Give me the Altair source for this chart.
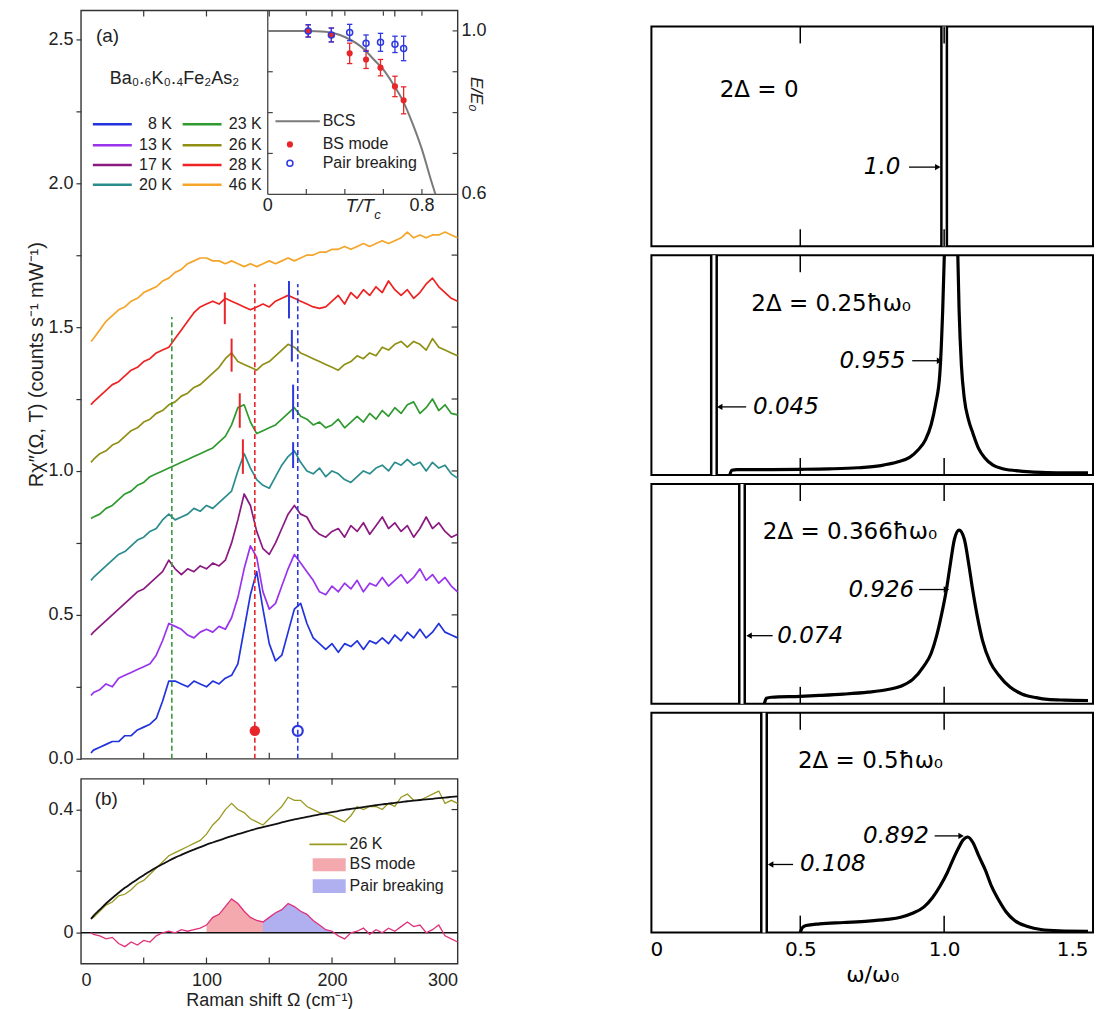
import altair as alt
import pandas as pd

FL = "Liberation Sans"
FR = "DejaVu Sans"
INK = "#222222"

# ---------------- panel (a): Raman spectra ----------------
shift = [8, 10, 15, 20, 25, 30, 35, 40, 45, 50, 55, 60, 65, 70, 75, 80, 85, 90, 95, 100,
         105, 110, 115, 120, 125, 130, 135, 140, 145, 150, 155, 160, 165, 170, 175, 180, 185, 190, 195, 200,
         205, 210, 215, 220, 225, 230, 235, 240, 245, 250, 255, 260, 265, 270, 275, 280, 285, 290, 295, 300]
temps = ["8 K", "13 K", "17 K", "20 K", "23 K", "26 K", "28 K", "46 K"]
temp_colors = ["#2233dd", "#9933ee", "#8b1a80", "#2a8c8c", "#2f9a2f", "#8f8f14", "#ee2222", "#f4a52a"]

s8 = [0.02, 0.03, 0.04, 0.05, 0.06, 0.06, 0.08, 0.08, 0.10, 0.11, 0.12, 0.14, 0.20, 0.27, 0.27, 0.26, 0.25, 0.27, 0.26, 0.25,
      0.27, 0.26, 0.28, 0.29, 0.33, 0.45, 0.57, 0.65, 0.52, 0.40, 0.34, 0.36, 0.44, 0.52, 0.54, 0.47, 0.42, 0.40, 0.38, 0.40,
      0.37, 0.40, 0.39, 0.41, 0.38, 0.41, 0.40, 0.42, 0.40, 0.43, 0.41, 0.44, 0.42, 0.45, 0.42, 0.44, 0.47, 0.44, 0.43, 0.42]
s13 = [0.22, 0.23, 0.24, 0.26, 0.25, 0.28, 0.29, 0.30, 0.31, 0.32, 0.33, 0.36, 0.41, 0.47, 0.46, 0.45, 0.43, 0.42, 0.44, 0.45,
       0.44, 0.46, 0.45, 0.49, 0.56, 0.66, 0.74, 0.70, 0.58, 0.52, 0.54, 0.60, 0.66, 0.71, 0.68, 0.65, 0.62, 0.58, 0.57, 0.60,
       0.58, 0.61, 0.59, 0.62, 0.58, 0.61, 0.60, 0.63, 0.60, 0.62, 0.64, 0.61, 0.63, 0.66, 0.62, 0.64, 0.61, 0.63, 0.60, 0.58]
s17 = [0.43, 0.44, 0.46, 0.48, 0.50, 0.52, 0.54, 0.56, 0.58, 0.59, 0.61, 0.63, 0.65, 0.69, 0.66, 0.64, 0.66, 0.65, 0.67, 0.66,
       0.68, 0.67, 0.69, 0.75, 0.83, 0.92, 0.88, 0.79, 0.73, 0.71, 0.75, 0.80, 0.85, 0.88, 0.85, 0.84, 0.80, 0.78, 0.77, 0.79,
       0.80, 0.77, 0.81, 0.79, 0.82, 0.78, 0.81, 0.84, 0.80, 0.82, 0.79, 0.81, 0.77, 0.80, 0.84, 0.80, 0.82, 0.79, 0.77, 0.78]
s20 = [0.62, 0.63, 0.65, 0.67, 0.69, 0.71, 0.72, 0.74, 0.76, 0.77, 0.79, 0.80, 0.83, 0.85, 0.83, 0.84, 0.85, 0.87, 0.86, 0.88,
       0.87, 0.89, 0.91, 0.93, 1.00, 1.06, 1.01, 0.97, 0.95, 0.94, 0.98, 1.02, 1.05, 1.07, 1.03, 1.00, 0.99, 1.01, 0.98, 1.00,
       0.99, 0.97, 0.96, 0.98, 1.00, 0.99, 1.01, 1.02, 1.00, 1.03, 1.02, 1.04, 1.02, 1.03, 1.00, 1.03, 1.01, 1.02, 0.99, 0.975]
s23 = [0.835, 0.84, 0.85, 0.87, 0.88, 0.90, 0.92, 0.93, 0.95, 0.96, 0.98, 0.99, 1.00, 1.01, 1.02, 1.03, 1.04, 1.05, 1.06, 1.07,
       1.08, 1.10, 1.12, 1.16, 1.22, 1.23, 1.17, 1.13, 1.14, 1.15, 1.16, 1.18, 1.20, 1.22, 1.19, 1.18, 1.16, 1.17, 1.15, 1.16,
       1.18, 1.15, 1.17, 1.19, 1.17, 1.20, 1.18, 1.21, 1.19, 1.22, 1.20, 1.23, 1.24, 1.20, 1.22, 1.25, 1.21, 1.23, 1.20, 1.195]
s26 = [1.03, 1.04, 1.06, 1.07, 1.09, 1.10, 1.12, 1.14, 1.15, 1.17, 1.18, 1.20, 1.21, 1.23, 1.24, 1.26, 1.27, 1.29, 1.30, 1.32,
       1.34, 1.36, 1.39, 1.41, 1.38, 1.37, 1.36, 1.35, 1.37, 1.38, 1.40, 1.42, 1.44, 1.43, 1.41, 1.40, 1.39, 1.38, 1.37, 1.36,
       1.35, 1.37, 1.38, 1.40, 1.39, 1.41, 1.40, 1.43, 1.42, 1.44, 1.45, 1.43, 1.45, 1.44, 1.42, 1.46, 1.43, 1.42, 1.41, 1.40]
s28 = [1.23, 1.24, 1.26, 1.28, 1.30, 1.31, 1.33, 1.35, 1.36, 1.38, 1.39, 1.41, 1.42, 1.43, 1.46, 1.49, 1.52, 1.55, 1.57, 1.58,
       1.59, 1.58, 1.60, 1.59, 1.58, 1.57, 1.56, 1.57, 1.58, 1.57, 1.59, 1.60, 1.61, 1.60, 1.59, 1.58, 1.57, 1.565, 1.57, 1.59,
       1.61, 1.58, 1.62, 1.60, 1.63, 1.61, 1.64, 1.62, 1.66, 1.63, 1.61, 1.63, 1.60, 1.62, 1.65, 1.67, 1.64, 1.62, 1.60, 1.59]
s46 = [1.45, 1.46, 1.49, 1.52, 1.54, 1.56, 1.57, 1.59, 1.60, 1.62, 1.63, 1.64, 1.66, 1.67, 1.69, 1.70, 1.72, 1.73, 1.74, 1.74,
       1.73, 1.73, 1.72, 1.73, 1.72, 1.71, 1.72, 1.71, 1.72, 1.73, 1.72, 1.73, 1.74, 1.73, 1.74, 1.75, 1.75, 1.76, 1.76, 1.77,
       1.77, 1.78, 1.77, 1.78, 1.79, 1.78, 1.79, 1.80, 1.79, 1.80, 1.81, 1.83, 1.81, 1.82, 1.81, 1.82, 1.82, 1.83, 1.82, 1.81]
spectra = [s8, s13, s17, s20, s23, s26, s28, s46]

guide_x = [72.4, 138.5, 172.7]
guide_top = [1.535, 1.65, 1.65]
guide_colors = ["#3a9a3a", "#e8262a", "#2d38e0"]

mode_x = [114.6, 165.7, 120.0, 168.0, 126.5, 169.0, 129.0, 169.0]
mode_lo = [1.51, 1.53, 1.345, 1.38, 1.15, 1.18, 0.99, 1.01]
mode_hi = [1.62, 1.66, 1.46, 1.49, 1.27, 1.30, 1.11, 1.10]
mode_colors = ["#e8262a", "#2d38e0"] * 4

bs_dot_x, pb_dot_x, dot_y = 138.5, 172.7, 0.097

# ---------------- panel (b) ----------------
b26 = [0.045, 0.05, 0.07, 0.09, 0.10, 0.12, 0.125, 0.14, 0.16, 0.17, 0.19, 0.21, 0.23, 0.25, 0.26, 0.27, 0.28, 0.29, 0.30, 0.32,
       0.35, 0.37, 0.40, 0.42, 0.40, 0.39, 0.37, 0.36, 0.35, 0.37, 0.39, 0.41, 0.44, 0.43, 0.43, 0.41, 0.40, 0.39, 0.385, 0.38,
       0.37, 0.36, 0.38, 0.41, 0.40, 0.41, 0.41, 0.40, 0.42, 0.41, 0.44, 0.45, 0.43, 0.43, 0.44, 0.45, 0.46, 0.42, 0.43, 0.42]
bfit = [0.045, 0.055, 0.075, 0.095, 0.113, 0.13, 0.146, 0.16, 0.174, 0.187, 0.2, 0.212, 0.223, 0.234, 0.244, 0.253, 0.262, 0.27, 0.278, 0.286,
        0.293, 0.3, 0.307, 0.314, 0.32, 0.326, 0.332, 0.338, 0.343, 0.348, 0.353, 0.358, 0.363, 0.368, 0.372, 0.376, 0.38, 0.384, 0.388, 0.392,
        0.395, 0.399, 0.402, 0.405, 0.408, 0.411, 0.414, 0.417, 0.419, 0.422, 0.424, 0.427, 0.429, 0.431, 0.433, 0.435, 0.437, 0.439, 0.441, 0.443]
bdiff = [0.0, -0.005, -0.01, -0.02, -0.015, -0.035, -0.045, -0.03, -0.04, -0.025, -0.03, -0.01, 0.0, 0.005, 0.0, 0.01, 0.005, 0.01, 0.015, 0.025,
         0.05, 0.06, 0.085, 0.11, 0.095, 0.07, 0.05, 0.04, 0.035, 0.05, 0.065, 0.075, 0.095, 0.085, 0.07, 0.06, 0.04, 0.025, 0.01, 0.005,
         -0.01, -0.02, 0.0, 0.005, 0.015, -0.005, 0.01, 0.0, 0.015, 0.005, 0.02, 0.035, 0.02, 0.025, 0.0, 0.01, 0.025, -0.01, -0.02, -0.03]
bs_range = (100, 145)
pb_range = (145, 200)

# ---------------- inset ----------------
bcs_t = [0.0, 0.1, 0.2, 0.3, 0.4, 0.5, 0.55, 0.6, 0.65, 0.7, 0.75, 0.8, 0.85, 0.87]
bcs_e = [1.0, 1.0, 1.0, 0.998, 0.985, 0.955, 0.93, 0.905, 0.87, 0.83, 0.775, 0.71, 0.63, 0.6]
pt_t = [0.21, 0.33, 0.425, 0.51, 0.585, 0.66, 0.705]
bs_e = [1.0, 0.99, 0.945, 0.93, 0.91, 0.864, 0.83]
bs_err = [0.015, 0.017, 0.025, 0.022, 0.02, 0.025, 0.033]
pb_e = [1.0, 0.99, 0.996, 0.97, 0.972, 0.967, 0.957]
pb_err = [0.015, 0.017, 0.02, 0.02, 0.022, 0.02, 0.03]

# ---------------- right column ----------------
p2_x = [0.255, 0.262, 0.28, 0.40, 0.50, 0.60, 0.70, 0.78, 0.84, 0.88, 0.91, 0.935, 0.955, 0.97, 0.985, 0.995, 1.005,
        1.015, 1.025, 1.035, 1.045, 1.052, 1.06, 1.07, 1.085, 1.10, 1.12, 1.14, 1.17, 1.20, 1.25, 1.30, 1.36, 1.42, 1.5]
p2_y = [0.0, 0.022, 0.025, 0.025, 0.026, 0.028, 0.033, 0.043, 0.06, 0.08, 0.115, 0.16, 0.23, 0.32, 0.46, 0.75, 1.2,
        1.6, 1.8, 1.7, 1.15, 0.75, 0.5, 0.35, 0.25, 0.19, 0.12, 0.08, 0.045, 0.03, 0.02, 0.014, 0.011, 0.01, 0.01]
p3_x = [0.375, 0.382, 0.40, 0.50, 0.567, 0.65, 0.736, 0.80, 0.849, 0.89, 0.929, 0.955, 0.974, 0.99, 1.008, 1.022,
        1.036, 1.052, 1.07, 1.085, 1.099, 1.115, 1.133, 1.16, 1.19, 1.23, 1.27, 1.32, 1.36, 1.42, 1.5]
p3_y = [0.0, 0.025, 0.03, 0.034, 0.038, 0.044, 0.053, 0.064, 0.08, 0.11, 0.17, 0.23, 0.31, 0.40, 0.52, 0.64,
        0.75, 0.79, 0.75, 0.64, 0.52, 0.40, 0.29, 0.19, 0.13, 0.075, 0.045, 0.028, 0.02, 0.017, 0.015]
p4_x = [0.50, 0.507, 0.52, 0.567, 0.65, 0.736, 0.80, 0.849, 0.89, 0.929, 0.96, 0.985, 1.01, 1.03, 1.05, 1.065, 1.082,
        1.10, 1.12, 1.143, 1.165, 1.19, 1.215, 1.245, 1.29, 1.336, 1.40, 1.5]
p4_y = [0.0, 0.022, 0.032, 0.04, 0.046, 0.052, 0.06, 0.07, 0.088, 0.116, 0.16, 0.21, 0.27, 0.33, 0.385, 0.42, 0.435,
        0.41, 0.35, 0.285, 0.21, 0.147, 0.095, 0.055, 0.028, 0.014, 0.008, 0.006]
spike_pos = [1.0, 0.2, 0.2975, 0.374]
gap_labels = ["2Δ = 0", "2Δ = 0.25ħω₀", "2Δ = 0.366ħω₀", "2Δ = 0.5ħω₀"]
peak_labels = ["1.0", "0.955", "0.926", "0.892"]
spike_labels = [None, "0.045", "0.074", "0.108"]

# ================= layout constants =================
W_A, H_A, H_B = 377, 749, 185
W_R, H_R = 442, 220
XA = alt.Scale(domain=[0, 300], nice=False)
YA = alt.Scale(domain=[0, 2.6], nice=False)
YB = alt.Scale(domain=[-0.1, 0.5], nice=False)
XI = alt.Scale(domain=[0, 0.985], range=[187, 377], nice=False)
YI = alt.Scale(domain=[0.6, 1.05], range=[184, 0], nice=False)
XR = alt.Scale(domain=[0, 1.5], nice=False)
YR = alt.Scale(domain=[0, 1], nice=False)

AY_A = alt.Axis(values=[i * 0.25 for i in range(11)],
                labelExpr="datum.value % 0.5 == 0 ? format(datum.value, '.1f') : ''",
                title="Rχ″(Ω, T) (counts s⁻¹ mW⁻¹)", titleFont=FL, titleFontSize=20, titleFontWeight="normal",
                titleColor=INK, titleY=354, labelFont=FL, labelFontSize=18, labelColor=INK,
                tickSize=5, tickColor="#333", tickWidth=1.2, domain=False, grid=False,
                labelPadding=3, titlePadding=2, minExtent=32, maxExtent=32)
AX_B = alt.Axis(values=[0, 50, 100, 150, 200, 250, 300], labelExpr="datum.value % 100 == 0 ? datum.label : ''",
                ticks=False, domain=False, grid=False, labelFont=FL, labelFontSize=18, labelColor=INK, labelPadding=8,
                title="Raman shift Ω (cm⁻¹)", titleFont=FL, titleFontSize=18, titleFontWeight="normal", titleColor=INK,
                titlePadding=2)
AY_B = alt.Axis(values=[0, 0.2, 0.4], labelExpr="datum.value == 0 ? '0' : (datum.value == 0.4 ? '0.4' : '')",
                title=None, labelFont=FL, labelFontSize=18, labelColor=INK, tickSize=5, tickColor="#333", tickWidth=1.2,
                domain=False, grid=False, labelPadding=3, minExtent=32, maxExtent=32)
AX_R_BOT = alt.Axis(orient="bottom", values=[0, 0.5, 1.0, 1.5],
                    labelExpr="datum.value == 0 ? '0' : format(datum.value, '.1f')",
                    labelAlign={"condition": {"test": "datum.value >= 1.5", "value": "right"}, "value": "center"},
                    ticks=False, domain=False, grid=False, labelFont=FR, labelFontSize=20, labelColor="black",
                    labelPadding=7, title="ω/ω₀", titleFont=FR, titleFontSize=22, titleFontWeight="normal",
                    titleColor="black", titlePadding=5)


def axes(sx, ax, sy, ay):
    def X(f):
        return alt.X(f, scale=sx, axis=ax)

    def Y(f):
        return alt.Y(f, scale=sy, axis=ay)
    return X, Y


def txt(df, X, Y, size, align="left", style="normal", font=FL, color=INK, angle=0, dx=0, dy=0):
    return alt.Chart(df).mark_text(font=font, fontSize=size, align=align, baseline="middle", fontStyle=style,
                                   color=color, angle=angle, dx=dx, dy=dy).encode(x=X("x:Q"), y=Y("y:Q"), text="t:N")


def inward_x(vals, X, H, L=6, color="#333", w=1.2):
    d = alt.Chart(pd.DataFrame({"v": vals}))
    return [d.mark_rule(color=color, strokeWidth=w).encode(x=X("v:Q"), y=alt.value(0), y2=alt.value(L)),
            d.mark_rule(color=color, strokeWidth=w).encode(x=X("v:Q"), y=alt.value(H - L), y2=alt.value(H))]


def inward_yright(vals, Y, W, L=6, color="#333", w=1.2):
    d = alt.Chart(pd.DataFrame({"v": vals}))
    return [d.mark_rule(color=color, strokeWidth=w).encode(y=Y("v:Q"), x=alt.value(W - L), x2=alt.value(W))]


# ---------- panel (a) main ----------
X, Y = axes(XA, None, YA, AY_A)
spec = pd.DataFrame([{"x": x, "y": y, "T": t, "c": c}
                     for t, c, vals in zip(temps, temp_colors, spectra) for x, y in zip(shift, vals)])
curves = alt.Chart(spec).mark_line(strokeWidth=1.7, strokeJoin="round").encode(
    x=X("x:Q"), y=Y("y:Q"), detail="T:N", stroke=alt.Stroke("c:N", scale=None))
guides = alt.Chart(pd.DataFrame({"x": guide_x, "y0": [0] * 3, "y1": guide_top, "c": guide_colors})).mark_rule(
    strokeDash=[5, 3], strokeWidth=1.6).encode(x=X("x:Q"), y=Y("y0:Q"), y2="y1:Q", stroke=alt.Stroke("c:N", scale=None))
modes = alt.Chart(pd.DataFrame({"x": mode_x, "y0": mode_lo, "y1": mode_hi, "c": mode_colors})).mark_rule(
    strokeWidth=2).encode(x=X("x:Q"), y=Y("y0:Q"), y2="y1:Q", stroke=alt.Stroke("c:N", scale=None))
dot_bs = alt.Chart(pd.DataFrame({"x": [bs_dot_x], "y": [dot_y]})).mark_point(
    filled=True, size=110, color="#e8262a", opacity=1).encode(x=X("x:Q"), y=Y("y:Q"))
dot_pb = alt.Chart(pd.DataFrame({"x": [pb_dot_x], "y": [dot_y]})).mark_point(
    filled=False, size=100, strokeWidth=2.2, color="#2d38e0", opacity=1).encode(x=X("x:Q"), y=Y("y:Q"))

leg_col_x = [9.5, 81.0]
leg_row_y = [2.205, 2.132, 2.063, 1.994]
leg_rows = []
for i, (t, c) in enumerate(zip(temps, temp_colors)):
    x0 = leg_col_x[i // 4]
    leg_rows.append({"x": x0, "x2": x0 + 31, "xt": x0 + 63, "y": leg_row_y[i % 4], "t": t, "c": c})
leg_df = pd.DataFrame(leg_rows)
leg_lines = alt.Chart(leg_df).mark_rule(strokeWidth=2.5).encode(
    x=X("x:Q"), x2="x2:Q", y=Y("y:Q"), stroke=alt.Stroke("c:N", scale=None))
leg_text = alt.Chart(leg_df).mark_text(font=FL, fontSize=16, align="right", baseline="middle", color=INK).encode(
    x=X("xt:Q"), y=Y("y:Q"), text="t:N")
lab_a = txt(pd.DataFrame({"x": [12], "y": [2.51], "t": ["(a)"]}), X, Y, 19)
lab_comp = txt(pd.DataFrame({"x": [23], "y": [2.361], "t": ["Ba₀.₆K₀.₄Fe₂As₂"]}), X, Y, 18)

main_layers = [curves, guides, modes, dot_bs, dot_pb, leg_lines, leg_text, lab_a, lab_comp]
main_layers += inward_x([50, 100, 150, 200, 250], X, H_A)
main_layers += inward_yright([0.25, 0.5, 0.75, 1.0, 1.25, 1.5, 1.75], Y, W_A)
main_a = alt.layer(*main_layers)

# ---------- inset ----------
XIn, YIn = axes(XI, None, YI, None)
ink_i = "#444"
frame_left = alt.Chart(pd.DataFrame({"x": [0], "y": [0.6], "y2": [1.05]})).mark_rule(color=ink_i, strokeWidth=1.3).encode(
    x=XIn("x:Q"), y=YIn("y:Q"), y2="y2:Q")
frame_bot = alt.Chart(pd.DataFrame({"x": [0], "x2": [0.985], "y": [0.6]})).mark_rule(color=ink_i, strokeWidth=1.3).encode(
    x=XIn("x:Q"), x2="x2:Q", y=YIn("y:Q"))
tx = [0.2, 0.4, 0.6, 0.8]
ty = [0.7, 0.8, 0.9, 1.0]
tick_rows = ([{"x": v, "x2": v, "y": 0.6, "y2": 0.613} for v in tx] +
             [{"x": v, "x2": v, "y": 1.048, "y2": 1.037} for v in tx] +
             [{"x": 0, "x2": 0.026, "y": v, "y2": v} for v in ty] +
             [{"x": 0.985, "x2": 0.959, "y": v, "y2": v} for v in ty])
inset_ticks = alt.Chart(pd.DataFrame(tick_rows)).mark_rule(color=ink_i, strokeWidth=1.2).encode(
    x=XIn("x:Q"), x2="x2:Q", y=YIn("y:Q"), y2="y2:Q")
bcs = alt.Chart(pd.DataFrame({"x": bcs_t, "y": bcs_e})).mark_line(color="#7a7a7a", strokeWidth=2, interpolate="monotone").encode(
    x=XIn("x:Q"), y=YIn("y:Q"))
cap = 0.014


def errbars(ys, errs, color):
    d = pd.DataFrame({"x": pt_t, "lo": [y - e for y, e in zip(ys, errs)], "hi": [y + e for y, e in zip(ys, errs)]})
    d["xl"] = d["x"] - cap
    d["xr"] = d["x"] + cap
    bar = alt.Chart(d).mark_rule(color=color, strokeWidth=1.3).encode(x=XIn("x:Q"), y=YIn("lo:Q"), y2="hi:Q")
    c1 = alt.Chart(d).mark_rule(color=color, strokeWidth=1.3).encode(x=XIn("xl:Q"), x2="xr:Q", y=YIn("lo:Q"))
    c2 = alt.Chart(d).mark_rule(color=color, strokeWidth=1.3).encode(x=XIn("xl:Q"), x2="xr:Q", y=YIn("hi:Q"))
    return [bar, c1, c2]


bs_pts = alt.Chart(pd.DataFrame({"x": pt_t, "y": bs_e})).mark_point(filled=True, size=38, color="#e8262a", opacity=1).encode(
    x=XIn("x:Q"), y=YIn("y:Q"))
pb_pts = alt.Chart(pd.DataFrame({"x": pt_t, "y": pb_e})).mark_point(filled=False, size=36, strokeWidth=1.5, color="#2d38e0", opacity=1).encode(
    x=XIn("x:Q"), y=YIn("y:Q"))
il_line = alt.Chart(pd.DataFrame({"x": [0.04], "x2": [0.27], "y": [0.779]})).mark_rule(color="#7a7a7a", strokeWidth=2).encode(
    x=XIn("x:Q"), x2="x2:Q", y=YIn("y:Q"))
il_dot = alt.Chart(pd.DataFrame({"x": [0.115], "y": [0.722]})).mark_point(filled=True, size=38, color="#e8262a", opacity=1).encode(
    x=XIn("x:Q"), y=YIn("y:Q"))
il_circ = alt.Chart(pd.DataFrame({"x": [0.115], "y": [0.676]})).mark_point(filled=False, size=36, strokeWidth=1.5, color="#2d38e0", opacity=1).encode(
    x=XIn("x:Q"), y=YIn("y:Q"))
il_text = txt(pd.DataFrame({"x": [0.285] * 3, "y": [0.779, 0.722, 0.676], "t": ["BCS", "BS mode", "Pair breaking"]}), XIn, YIn, 16)
ix_labels = txt(pd.DataFrame({"x": [0, 0.8], "y": [0.6, 0.6], "t": ["0", "0.8"]}), XIn, YIn, 18, align="center", dy=12)
ix_title = txt(pd.DataFrame({"x": [0.477], "y": [0.6], "t": ["T/T"]}), XIn, YIn, 19, align="center", style="italic", dy=12)
ix_sub = txt(pd.DataFrame({"x": [0.57], "y": [0.6], "t": ["c"]}), XIn, YIn, 13, align="center", style="italic", dy=21)
iy_labels = txt(pd.DataFrame({"x": [0.985, 0.985], "y": [1.0, 0.6], "t": ["1.0", "0.6"]}), XIn, YIn, 18, dx=4)
iy_title = txt(pd.DataFrame({"x": [1.078], "y": [0.845], "t": ["E/E₀"]}), XIn, YIn, 17, align="center", style="italic", angle=90)

inset = alt.layer(frame_left, frame_bot, inset_ticks, bcs, *errbars(bs_e, bs_err, "#e8262a"),
                  *errbars(pb_e, pb_err, "#2d38e0"), bs_pts, pb_pts, il_line, il_dot, il_circ, il_text,
                  ix_labels, ix_title, ix_sub, iy_labels, iy_title)

panel_a = alt.layer(main_a, inset).resolve_scale(x="independent", y="independent").properties(
    width=W_A, height=H_A, view=alt.ViewBackground(stroke="#333", strokeWidth=1.4))

# ---------- panel (b) ----------
X, Y = axes(XA, AX_B, YB, AY_B)
bdf = pd.DataFrame({"x": shift, "b26": b26, "fit": bfit, "diff": bdiff})
bs_area_df = bdf[(bdf.x >= bs_range[0]) & (bdf.x <= bs_range[1])]
pb_area_df = bdf[(bdf.x >= pb_range[0]) & (bdf.x <= pb_range[1])]
area_bs = alt.Chart(bs_area_df).mark_area(color="#f2a0a4", opacity=0.9).encode(x=X("x:Q"), y=Y("diff:Q"), y2=alt.datum(0))
area_pb = alt.Chart(pb_area_df).mark_area(color="#a7a6ee", opacity=0.9).encode(x=X("x:Q"), y=Y("diff:Q"), y2=alt.datum(0))
zero_line = alt.Chart(pd.DataFrame({"y": [0]})).mark_rule(color="#111", strokeWidth=1.6).encode(y=Y("y:Q"))
line26 = alt.Chart(bdf).mark_line(color="#9a9a22", strokeWidth=1.3).encode(x=X("x:Q"), y=Y("b26:Q"))
line_fit = alt.Chart(bdf).mark_line(color="#111", strokeWidth=1.8, interpolate="monotone").encode(x=X("x:Q"), y=Y("fit:Q"))
line_diff = alt.Chart(bdf).mark_line(color="#e0307a", strokeWidth=1.3).encode(x=X("x:Q"), y=Y("diff:Q"))
lb_line = alt.Chart(pd.DataFrame({"x": [182], "x2": [212], "y": [0.287]})).mark_rule(color="#9a9a22", strokeWidth=1.6).encode(
    x=X("x:Q"), x2="x2:Q", y=Y("y:Q"))
lb_rects = alt.Chart(pd.DataFrame({"x": [184.6, 184.6], "x2": [210.9, 210.9], "y": [0.2, 0.129], "y2": [0.242, 0.174],
                                   "c": ["#f2a0a4", "#a7a6ee"]})).mark_rect(opacity=0.9).encode(
    x=X("x:Q"), x2="x2:Q", y=Y("y:Q"), y2="y2:Q", fill=alt.Fill("c:N", scale=None))
lb_text = txt(pd.DataFrame({"x": [214] * 3, "y": [0.287, 0.222, 0.152], "t": ["26 K", "BS mode", "Pair breaking"]}), X, Y, 16)
lab_b = txt(pd.DataFrame({"x": [11], "y": [0.435], "t": ["(b)"]}), X, Y, 19)

b_layers = [area_bs, area_pb, zero_line, line26, line_fit, line_diff, lb_line, lb_rects, lb_text, lab_b]
b_layers += inward_x([50, 100, 150, 200, 250], X, H_B)
b_layers += inward_yright([0.2, 0.4], Y, W_A)
panel_b = alt.layer(*b_layers).properties(width=W_A, height=H_B,
                                          view=alt.ViewBackground(stroke="#333", strokeWidth=1.4))

left = alt.vconcat(panel_a, panel_b, spacing=8)


# ---------- right column ----------
def arrow(X, Y, x1, x2, y, head):
    d = pd.DataFrame({"x": [x1], "x2": [x2], "y": [y], "hx": [x2 if head == "right" else x1]})
    shaft = alt.Chart(d).mark_rule(color="black", strokeWidth=1.3).encode(x=X("x:Q"), x2="x2:Q", y=Y("y:Q"))
    tip = alt.Chart(d).mark_point(shape="triangle-" + head, filled=True, size=40, color="black", opacity=1).encode(
        x=X("hx:Q"), y=Y("y:Q"))
    return [shaft, tip]


gap_pos = [(0.22, 0.71), (0.33, 0.78), (0.37, 0.78), (0.492, 0.78)]
peak_pos = [(0.848, 0.36), (0.865, 0.52), (0.896, 0.52), (0.947, 0.44)]
peak_arrows = [(0.878, 0.978, 0.36), (0.889, 0.984, 0.52), (0.913, 1.008, 0.52), (0.967, 1.059, 0.44)]
spike_txt_pos = [None, (0.336, 0.31), (0.42, 0.31), (0.499, 0.31)]
spike_arrows = [None, (0.22, 0.312, 0.31), (0.322, 0.404, 0.31), (0.397, 0.475, 0.31)]
curves_r = [(None, None), (p2_x, p2_y), (p3_x, p3_y), (p4_x, p4_y)]
x_axes_r = [None, None, None, AX_R_BOT]

# transparent strip that pushes the right column down below the left panel's top edge
spacer = alt.Chart(pd.DataFrame({"x": [0.5]})).mark_point(opacity=0, size=1).encode(
    x=alt.X("x:Q", scale=XR, axis=None), y=alt.Y("x:Q", scale=YR, axis=None)).properties(
    width=W_R, height=9, view=alt.ViewBackground(stroke="transparent", strokeWidth=0))

right_panels = [spacer]
for i in range(4):
    X, Y = axes(XR, x_axes_r[i], YR, None)
    cx, cy = curves_r[i]
    sp = pd.DataFrame({"x": [spike_pos[i]], "y0": [0], "y1": [1]})
    layers = [
        alt.Chart(sp).mark_bar(width=8, color="black").encode(x=X("x:Q"), y=Y("y0:Q"), y2="y1:Q"),
        alt.Chart(sp).mark_bar(width=3, color="white").encode(x=X("x:Q"), y=Y("y0:Q"), y2="y1:Q"),
    ]
    if cx:
        layers.append(alt.Chart(pd.DataFrame({"x": cx, "y": cy})).mark_line(
            color="black", strokeWidth=3.2, clip=True, interpolate="monotone").encode(x=X("x:Q"), y=Y("y:Q")))
    layers += inward_x([0.5, 1.0], X, H_R, L=17, color="black", w=1.5)
    layers.append(txt(pd.DataFrame({"x": [gap_pos[i][0]], "y": [gap_pos[i][1]], "t": [gap_labels[i]]}),
                      X, Y, 23, font=FR, color="black"))
    layers.append(txt(pd.DataFrame({"x": [peak_pos[i][0]], "y": [peak_pos[i][1]], "t": [peak_labels[i]]}),
                      X, Y, 23, align="right", style="italic", font=FR, color="black"))
    layers += arrow(X, Y, *peak_arrows[i], "right")
    if spike_labels[i]:
        layers.append(txt(pd.DataFrame({"x": [spike_txt_pos[i][0]], "y": [spike_txt_pos[i][1]], "t": [spike_labels[i]]}),
                          X, Y, 23, style="italic", font=FR, color="black"))
        layers += arrow(X, Y, *spike_arrows[i], "left")
    right_panels.append(alt.layer(*layers).properties(
        width=W_R, height=H_R, view=alt.ViewBackground(stroke="black", strokeWidth=2)))

right = alt.vconcat(*right_panels, spacing=5)

chart = alt.hconcat(left, right, spacing=161).properties(
    padding={"left": 18, "top": 0, "right": 0, "bottom": 0}
).configure(background="white")

chart.save("out.html", embed_options={"renderer": "svg", "actions": False})
